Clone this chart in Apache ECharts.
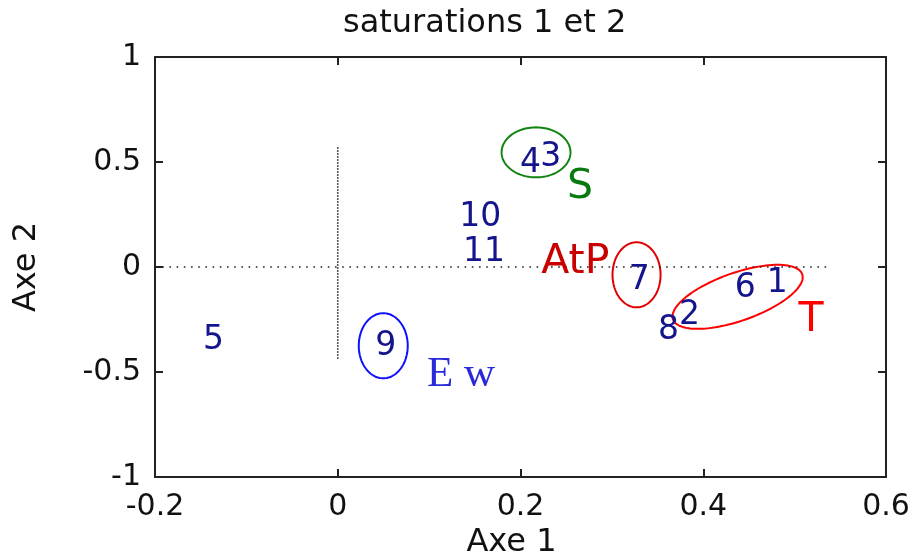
<!DOCTYPE html>
<html>
<head>
<meta charset="utf-8">
<script src="https://cdn.jsdelivr.net/npm/echarts@6/dist/echarts.min.js"></script>
<style>html,body{margin:0;padding:0;background:#fff}#c{width:916px;height:553px}</style>
</head>
<body>
<div id="c"></div>
<script>
// ---- data ----
const pointIds = ['1','2','3','4','5','6','7','8','9','10','11'];
const axe1Values = [0.481, 0.385, 0.233, 0.211, -0.136, 0.446, 0.330, 0.362, 0.0525, 0.156, 0.160];
const axe2Values = [-0.078, -0.230, 0.522, 0.494, -0.349, -0.101, -0.063, -0.301, -0.378, 0.237, 0.070];

const xTicks = [-0.2, 0, 0.2, 0.4, 0.6];
const yTicks = [-1, -0.5, 0, 0.5, 1];

const groupNames = ['S', 'AtP', 'T', 'E w'];
const groupX = [0.265, 0.260, 0.518, 0.135];
const groupY = [0.379, 0.022, -0.254, -0.511];

// ellipses: center x, center y, semi-axis vector a (dx,dy), semi-axis vector b (dx,dy), in data units
const ellipseCx = [0.217, 0.327, 0.0498, 0.4376];
const ellipseCy = [0.546, -0.037, -0.375, -0.142];
const ellipseAx = [0.0377, 0.0263, 0.0268, 0.0707];
const ellipseAy = [0, 0, 0, 0.1076];
const ellipseBx = [0, 0, 0, 0.00868];
const ellipseBy = [0.119, 0.155, 0.155, -0.1079];

const hLine = [[-0.2, 0], [0.54, 0]];
const vLine = [[0, 0.57], [0, -0.44]];

// ---- styles ----
const groupStyles = [
  {color: '#0a7a10', fontFamily: 'DejaVu Sans', fontSize: 41},
  {color: '#c80000', fontFamily: 'DejaVu Sans', fontSize: 41},
  {color: '#ff0000', fontFamily: 'DejaVu Sans', fontSize: 41},
  {color: '#2a2ad8', fontFamily: 'Liberation Serif', fontSize: 43}
];
const ellipseColors = ['#128412', '#e00000', '#1010ff', '#ff0000'];

const chart = echarts.init(document.getElementById('c'), null, {renderer: 'canvas'});

const axisCommon = {
  type: 'value',
  axisLine: {show: true, onZero: false, lineStyle: {color: '#222', width: 2}},
  axisTick: {show: true, inside: true, length: 8, lineStyle: {color: '#222', width: 2}},
  splitLine: {show: false}
};
const fmt = v => String(Math.round(v * 10) / 10);

const option = {
  animation: false,
  backgroundColor: '#fff',
  title: {
    text: 'saturations 1 et 2',
    left: 338, top: 3,
    textStyle: {fontFamily: 'DejaVu Sans', fontSize: 32, fontWeight: 'normal', color: '#111'}
  },
  grid: {left: 155, right: 30, top: 57, bottom: 76, containLabel: false, outerBoundsMode: 'none'},
  xAxis: [
    Object.assign({}, axisCommon, {
      min: xTicks[0], max: xTicks[xTicks.length - 1], interval: 0.2,
      position: 'bottom',
      name: 'Axe 1', nameLocation: 'middle', nameGap: 45,
      nameTextStyle: {fontFamily: 'DejaVu Sans', fontSize: 32, color: '#111', padding: [0, 18, 0, 0]},
      axisLabel: {show: true, margin: 15, fontFamily: 'DejaVu Sans', fontSize: 30, color: '#111', formatter: fmt}
    }),
    Object.assign({}, axisCommon, {
      min: xTicks[0], max: xTicks[xTicks.length - 1], interval: 0.2,
      position: 'top', axisLabel: {show: false}
    })
  ],
  yAxis: [
    Object.assign({}, axisCommon, {
      min: yTicks[0], max: yTicks[yTicks.length - 1], interval: 0.5,
      position: 'left',
      name: 'Axe 2', nameLocation: 'middle', nameGap: 112,
      nameTextStyle: {fontFamily: 'DejaVu Sans', fontSize: 32, color: '#111'},
      axisLabel: {show: true, margin: 14, fontFamily: 'DejaVu Sans', fontSize: 30, color: '#111', formatter: fmt}
    }),
    Object.assign({}, axisCommon, {
      min: yTicks[0], max: yTicks[yTicks.length - 1], interval: 0.5,
      position: 'right', axisLabel: {show: false}
    })
  ],
  series: [
    {
      type: 'line', data: hLine, symbol: 'none', silent: true,
      lineStyle: {color: '#222', width: 1.6, type: [1.6, 5.6]}
    },
    {
      type: 'line', data: vLine, symbol: 'none', silent: true,
      lineStyle: {color: '#222', width: 1.6, type: [1.5, 1.5]}
    },
    {
      type: 'custom',
      renderItem: function (params, api) {
        const cx = api.value(0), cy = api.value(1);
        const ax = api.value(2), ay = api.value(3), bx = api.value(4), by = api.value(5);
        const pts = [];
        for (let i = 0; i < 120; i++) {
          const t = i / 120 * Math.PI * 2;
          pts.push(api.coord([cx + Math.cos(t) * ax + Math.sin(t) * bx, cy + Math.cos(t) * ay + Math.sin(t) * by]));
        }
        return {
          type: 'polygon',
          shape: {points: pts},
          style: {fill: 'none', stroke: ellipseColors[params.dataIndex], lineWidth: 2}
        };
      },
      encode: {x: 0, y: 1},
      data: ellipseCx.map((c, i) => [c, ellipseCy[i], ellipseAx[i], ellipseAy[i], ellipseBx[i], ellipseBy[i]]),
      silent: true, z: 3
    },
    {
      type: 'scatter', symbolSize: 0, z: 5, itemStyle: {opacity: 1},
      data: pointIds.map((id, i) => ({name: id, value: [axe1Values[i], axe2Values[i]]})),
      label: {show: true, position: 'inside', formatter: p => p.name, opacity: 1,
        fontFamily: 'DejaVu Sans', fontSize: 33, color: '#14148c'}
    },
    {
      type: 'scatter', symbolSize: 0, z: 5, itemStyle: {opacity: 1},
      data: groupNames.map((g, i) => ({
        name: g, value: [groupX[i], groupY[i]],
        label: Object.assign({show: true, position: 'inside', formatter: g, opacity: 1}, groupStyles[i])
      }))
    }
  ]
};
chart.setOption(option);
</script>
</body>
</html>
